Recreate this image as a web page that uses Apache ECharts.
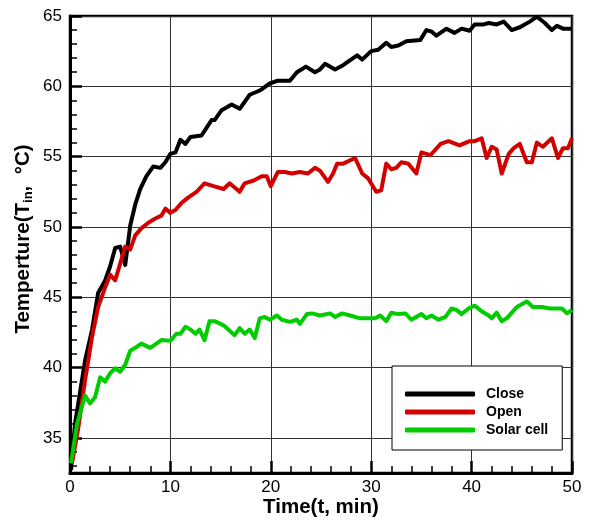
<!DOCTYPE html>
<html>
<head>
<meta charset="utf-8">
<script src="https://cdn.jsdelivr.net/npm/echarts@6/dist/echarts.min.js"></script>
<style>
  html, body { margin: 0; padding: 0; background: #fff; }
  #chart { width: 590px; height: 521px; }
</style>
</head>
<body>
<div id="chart"></div>
<script>
// Inlet temperature over time for three configurations
const closeTime = [0.1,0.5,1.5,2.2,2.8,3.5,4.0,4.5,5.0,5.5,6.0,6.5,7.0,7.6,8.3,9.0,9.5,10.0,10.5,11.0,11.5,12.0,13.1,14.1,14.4,15.1,16.1,16.9,17.9,18.9,19.9,20.7,21.9,22.6,23.5,24.4,24.9,25.4,26.4,27.2,28.6,29.1,30.0,30.7,31.5,32.0,32.7,33.5,34.9,35.5,36.0,36.5,37.5,38.3,39.0,39.8,40.3,41.2,41.7,42.5,43.2,44.0,44.8,45.8,46.5,47.3,48.0,48.5,49.1,50.0];
const closeTemp = [32.7,36.0,40.5,42.7,45.3,46.2,47.2,48.5,48.6,47.3,50.1,51.6,52.7,53.6,54.3,54.2,54.6,55.2,55.3,56.2,55.9,56.4,56.5,57.6,57.6,58.3,58.7,58.4,59.4,59.7,60.2,60.4,60.4,61.0,61.4,61.0,61.2,61.6,61.2,61.5,62.2,61.9,62.5,62.6,63.1,62.8,62.9,63.2,63.3,64.0,63.9,63.6,64.1,63.8,64.1,63.95,64.4,64.4,64.5,64.4,64.6,64.0,64.2,64.6,64.95,64.5,64.0,64.3,64.1,64.1];

const openTime = [0.2,0.8,1.5,2.2,2.8,3.5,4.0,4.5,5.0,5.5,6.0,6.5,7.1,7.8,8.5,9.1,9.5,10.0,10.5,11.1,11.8,12.6,13.4,14.3,15.3,15.9,16.9,17.4,18.3,19.1,19.6,20.0,20.7,21.4,22.1,22.9,23.7,24.4,24.9,25.7,26.2,26.6,27.2,28.4,29.1,29.7,30.5,31.0,31.5,32.0,32.5,33.0,33.7,34.5,35.0,35.5,35.9,36.9,37.7,38.8,39.8,40.3,41.0,41.5,42.0,42.5,43.0,43.7,44.2,44.8,45.5,46.0,46.5,47.1,48.0,48.6,49.1,49.6,50.0];
const openTemp = [33.2,35.6,39.1,42.2,44.3,45.7,46.6,46.2,47.4,48.6,48.4,49.4,49.9,50.3,50.6,50.8,51.3,51.0,51.2,51.7,52.1,52.5,53.1,52.9,52.7,53.1,52.5,53.1,53.3,53.6,53.6,52.9,53.9,53.9,53.8,53.9,53.8,54.2,54.0,53.2,53.8,54.5,54.5,54.9,53.8,53.45,52.5,52.6,54.5,54.1,54.2,54.6,54.5,53.8,55.3,55.2,55.1,55.9,56.1,55.8,56.1,56.1,56.3,54.9,55.7,55.5,53.8,55.2,55.6,55.9,54.6,54.6,56.0,55.7,56.3,54.9,55.6,55.6,56.3];

const solarTime = [0.1,0.7,1.5,2.0,2.5,3.0,3.5,4.0,4.5,5.0,5.5,6.0,6.5,7.1,8.0,8.6,9.1,10.0,10.6,11.0,11.5,12.0,12.5,12.9,13.4,13.9,14.4,15.3,16.4,16.9,17.4,17.9,18.4,18.9,19.4,19.9,20.6,21.1,21.9,22.6,22.9,23.6,24.1,24.9,25.9,26.4,27.1,27.9,28.9,29.9,30.4,30.9,31.5,32.0,32.7,33.4,34.0,35.0,35.5,36.0,36.7,37.4,38.0,38.5,39.0,39.7,40.3,41.0,41.7,42.0,42.5,43.0,43.5,44.5,45.5,46.1,47.0,47.8,49.0,49.5,50.0];
const solarTemp = [33.2,36.0,38.0,37.45,37.9,39.3,39.0,39.6,39.95,39.7,40.2,41.2,41.4,41.7,41.4,41.7,41.95,41.9,42.4,42.4,42.9,42.7,42.4,42.7,41.95,43.3,43.3,43.0,42.3,42.8,42.4,42.7,42.1,43.5,43.6,43.4,43.7,43.4,43.25,43.4,43.1,43.8,43.85,43.7,43.85,43.6,43.85,43.7,43.5,43.5,43.5,43.7,43.3,43.9,43.8,43.85,43.4,43.8,43.5,43.7,43.4,43.6,44.2,44.1,43.8,44.2,44.4,44.0,43.7,43.5,43.9,43.3,43.5,44.3,44.7,44.3,44.3,44.2,44.2,43.85,44.1];

const seriesNames = ['Close', 'Open', 'Solar cell'];
const yMajorTicks = [35, 40, 45, 50, 55, 60, 65];
const yMinorTicks = [];
for (let v = 33; v < 65; v++) { if (v % 5 !== 0) yMinorTicks.push(v); }

const pairs = (xs, ys) => xs.map((x, i) => [x, ys[i]]);
const FONT = '"Liberation Sans", Arial, sans-serif';

const chart = echarts.init(document.getElementById('chart'), null, { renderer: 'canvas' });

const lineSeries = (name, color, data) => ({
  name, type: 'line', data, showSymbol: false, symbol: 'none',
  lineStyle: { color, width: 4, join: 'round' },
  itemStyle: { color },
  animation: false
});

chart.setOption({
  animation: false,
  backgroundColor: '#fff',
  grid: { left: 70, right: 18, top: 16, bottom: 48, show: true, borderColor: '#000', borderWidth: 2.5, backgroundColor: 'transparent' },
  xAxis: {
    type: 'value', min: 0, max: 50, interval: 10,
    axisLine: { show: true, lineStyle: { color: '#000', width: 3 } },
    axisTick: { show: true, inside: true, length: 12, lineStyle: { color: '#000', width: 2.5 } },
    minorTick: { show: true, splitNumber: 5, length: 7, lineStyle: { color: '#000', width: 1.5 } },
    axisLabel: { color: '#000', fontSize: 17, fontFamily: FONT, margin: 6 },
    splitLine: { show: true, lineStyle: { color: '#333', width: 1 } }
  },
  yAxis: [{
    type: 'value', min: 32.5, max: 65,
    axisLine: { show: true, lineStyle: { color: '#000', width: 3 } },
    axisTick: { show: true, inside: true, length: 12, customValues: yMajorTicks, lineStyle: { color: '#000', width: 2.5 } },
    axisLabel: { color: '#000', fontSize: 17, fontFamily: FONT, margin: 8, customValues: yMajorTicks },
    splitLine: { show: true, lineStyle: { color: '#333', width: 1 } }
  }, {
    type: 'value', min: 32.5, max: 65, position: 'left',
    axisLine: { show: false },
    axisTick: { show: true, inside: true, length: 7, customValues: yMinorTicks, lineStyle: { color: '#000', width: 1.5 } },
    axisLabel: { show: false },
    splitLine: { show: false }
  }],
  legend: {
    data: seriesNames,
    orient: 'vertical',
    left: 392, top: 366,
    padding: [19, 14, 11, 13],
    itemGap: 0,
    itemWidth: 70, itemHeight: 5,
    icon: 'roundRect',
    backgroundColor: '#fff',
    borderColor: '#000', borderWidth: 1,
    textStyle: { color: '#000', fontSize: 14, fontWeight: 'bold', fontFamily: FONT, lineHeight: 18, padding: [0, 0, 0, 6] }
  },
  series: [
    lineSeries(seriesNames[0], '#000000', pairs(closeTime, closeTemp)),
    lineSeries(seriesNames[1], '#d40000', pairs(openTime, openTemp)),
    lineSeries(seriesNames[2], '#00cc00', pairs(solarTime, solarTemp))
  ],
  graphic: [{
    type: 'text',
    position: [321, 507],
    style: { text: 'Time(t, min)', font: 'bold 20.5px ' + FONT, fill: '#000', align: 'center', verticalAlign: 'middle' }
  }, {
    type: 'text',
    position: [23, 239],
    rotation: Math.PI / 2,
    style: {
      text: '{b|Temperture(T}{s|in}{b|,  °C)}',
      align: 'center', verticalAlign: 'middle',
      rich: {
        b: { font: 'bold 20.5px ' + FONT, fill: '#000', lineHeight: 24 },
        s: { font: 'bold 13px ' + FONT, fill: '#000', lineHeight: 13, verticalAlign: 'bottom' }
      }
    }
  }]
});
</script>
</body>
</html>
